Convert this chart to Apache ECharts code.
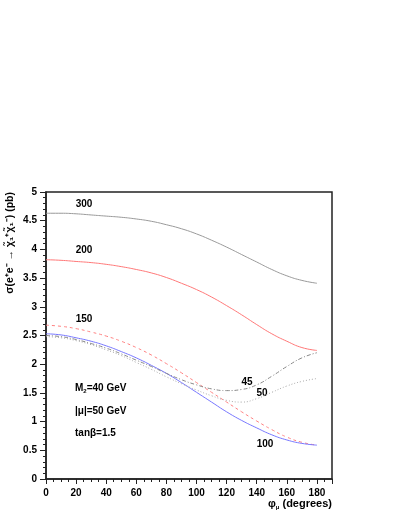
<!DOCTYPE html>
<html><head><meta charset="utf-8">
<script src="https://cdn.jsdelivr.net/npm/echarts@6/dist/echarts.min.js"></script>
<style>html,body{margin:0;padding:0;background:#fff}#c{width:399px;height:516px}</style>
</head><body><div id="c"></div>
<script>
var phi = [0,10,20,30,40,50,60,70,80,90,100,110,120,130,140,150,160,170,180];
var s300 = [4.63,4.63,4.62,4.60,4.58,4.56,4.53,4.49,4.43,4.36,4.27,4.16,4.04,3.91,3.78,3.65,3.54,3.46,3.41];
var s200 = [3.82,3.81,3.79,3.77,3.74,3.70,3.65,3.59,3.51,3.41,3.30,3.17,3.02,2.86,2.69,2.53,2.40,2.29,2.24];
var s150 = [2.68,2.66,2.62,2.56,2.49,2.40,2.29,2.16,2.01,1.85,1.68,1.51,1.34,1.17,1.01,0.86,0.73,0.64,0.59];
var s100 = [2.53,2.51,2.46,2.40,2.32,2.22,2.11,1.98,1.84,1.68,1.51,1.34,1.17,1.02,0.89,0.77,0.68,0.62,0.59];
var s45  = [2.50,2.48,2.43,2.36,2.28,2.18,2.07,1.96,1.84,1.73,1.64,1.57,1.54,1.56,1.64,1.79,1.96,2.11,2.20];
var s50  = [2.48,2.46,2.41,2.34,2.25,2.15,2.03,1.91,1.78,1.66,1.55,1.45,1.37,1.34,1.40,1.51,1.62,1.70,1.75];
var xTicks = [0,20,40,60,80,100,120,140,160,180];

function pts(a){ return phi.map(function(x,i){ return [x,a[i]]; }); }
var F = '"Liberation Sans", Arial, sans-serif';
var chart = echarts.init(document.getElementById('c'));
function lbl(t,x,y,align){ return {type:'text',x:x,y:y,style:{text:t,font:'bold 10px '+F,fill:'#000',textAlign:align||'center',textVerticalAlign:'middle'}}; }
chart.setOption({
  animation:false,
  grid:{left:46,right:67,top:192,bottom:37,show:true,borderColor:'#222',borderWidth:1.5,backgroundColor:'transparent'},
  xAxis:{type:'value',min:0,max:190,interval:20,
    axisLine:{show:true,onZero:false,lineStyle:{color:'#222',width:1.5}},
    axisTick:{show:true,inside:false,length:5,lineStyle:{color:'#222'}},
    minorTick:{show:true,splitNumber:4,length:3,lineStyle:{color:'#222'}},
    splitLine:{show:false},
    axisLabel:{margin:9,fontFamily:F,fontWeight:'bold',fontSize:10,color:'#000',showMaxLabel:false,
      formatter:function(v){return xTicks.indexOf(v)>=0?String(v):'';}}},
  yAxis:{type:'value',min:0,max:5,interval:0.5,
    axisLine:{show:true,onZero:false,lineStyle:{color:'#222',width:1.5}},
    axisTick:{show:true,inside:false,length:6,lineStyle:{color:'#222'}},
    minorTick:{show:true,splitNumber:5,length:3,lineStyle:{color:'#222'}},
    splitLine:{show:false},
    axisLabel:{margin:9,fontFamily:F,fontWeight:'bold',fontSize:10,color:'#000'}},
  series:[
    {type:'line',data:pts(s300),smooth:true,symbol:'none',lineStyle:{color:'#999',width:1}},
    {type:'line',data:pts(s200),smooth:true,symbol:'none',lineStyle:{color:'#ff7777',width:1}},
    {type:'line',data:pts(s150),smooth:true,symbol:'none',lineStyle:{color:'#ff8080',width:1,type:[3,3]}},
    {type:'line',data:pts(s100),smooth:true,symbol:'none',lineStyle:{color:'#7777ff',width:1}},
    {type:'line',data:pts(s45),smooth:true,symbol:'none',lineStyle:{color:'#888',width:1,type:[4,2,1,2]}},
    {type:'line',data:pts(s50),smooth:true,symbol:'none',lineStyle:{color:'#aaa',width:1,type:[1,2]}}
  ],
  graphic:[
    lbl('300',84,204), lbl('200',84,250), lbl('150',84,319),
    lbl('45',247,382), lbl('50',262,393), lbl('100',265,444),
    {type:'text',x:75,y:388,style:{text:'M{s|2}=40 GeV',font:'bold 10px '+F,fill:'#000',textVerticalAlign:'middle',rich:{s:{fontSize:6,fontWeight:'bold',fontFamily:F,padding:[6,0,0,0]}}}},
    lbl('|μ|=50 GeV',75,411,'left'),
    lbl('tanβ=1.5',75,433,'left'),
    {type:'text',x:10,y:192,rotation:Math.PI/2,style:{text:'σ(e⁺e⁻ → χ̃₁⁺χ̃₁⁻) (pb)',font:'bold 10.5px '+F,fill:'#000',textAlign:'right',textVerticalAlign:'middle'}},
    {type:'text',x:332,y:504,style:{text:'φ{s|μ} (degrees)',font:'bold 11px '+F,fill:'#000',textAlign:'right',textVerticalAlign:'middle',rich:{s:{fontSize:6,fontWeight:'bold',fontFamily:F,padding:[6,0,0,0]}}}}
  ]
});
</script></body></html>
